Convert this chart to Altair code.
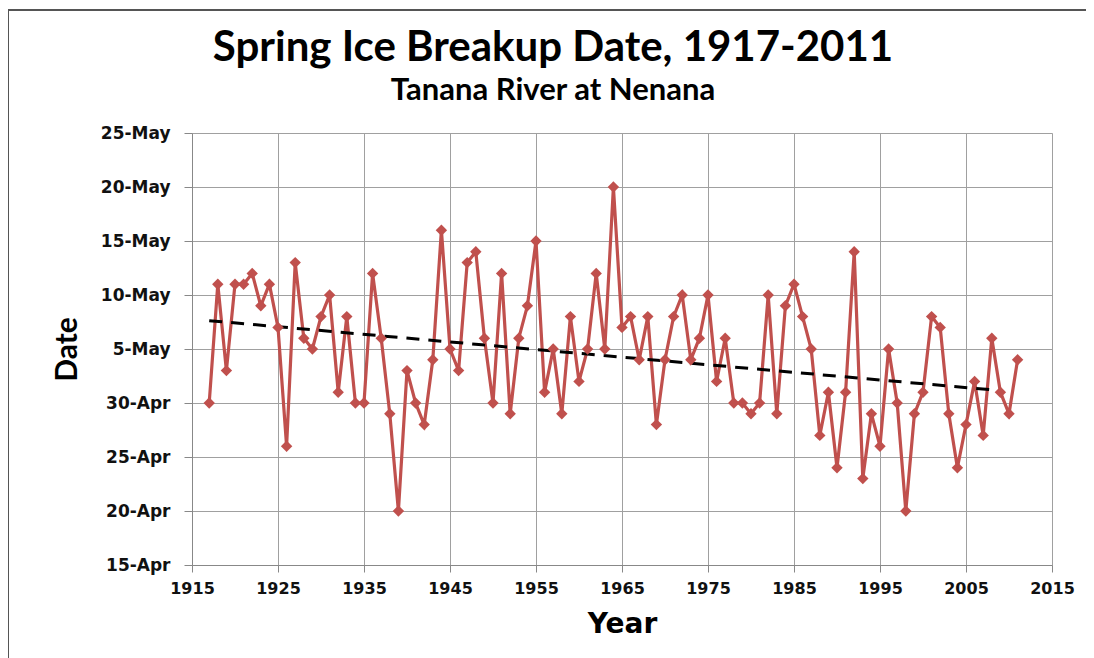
import altair as alt
import pandas as pd

years = list(range(1917, 2012))
breakup = [
    "30-Apr", "11-May", "3-May", "11-May", "11-May", "12-May", "9-May", "11-May", "7-May", "26-Apr",
    "13-May", "6-May", "5-May", "8-May", "10-May", "1-May", "8-May", "30-Apr", "30-Apr", "12-May",
    "6-May", "29-Apr", "20-Apr", "3-May", "30-Apr", "28-Apr", "4-May", "16-May", "5-May", "3-May",
    "13-May", "14-May", "6-May", "30-Apr", "12-May", "29-Apr", "6-May", "9-May", "15-May", "1-May",
    "5-May", "29-Apr", "8-May", "2-May", "5-May", "12-May", "5-May", "20-May", "7-May", "8-May",
    "4-May", "8-May", "28-Apr", "4-May", "8-May", "10-May", "4-May", "6-May", "10-May", "2-May",
    "6-May", "30-Apr", "30-Apr", "29-Apr", "30-Apr", "10-May", "29-Apr", "9-May", "11-May", "8-May",
    "5-May", "27-Apr", "1-May", "24-Apr", "1-May", "14-May", "23-Apr", "29-Apr", "26-Apr", "5-May",
    "30-Apr", "20-Apr", "29-Apr", "1-May", "8-May", "7-May", "29-Apr", "24-Apr", "28-Apr", "2-May",
    "27-Apr", "6-May", "1-May", "29-Apr", "4-May",
]
x_ticks = list(range(1915, 2016, 10))
y_ticks = ["15-Apr", "20-Apr", "25-Apr", "30-Apr", "5-May", "10-May", "15-May", "20-May", "25-May"]
trend_extent = [1917, 2009]


def doy(s):
    return pd.to_datetime(s + "-2001", format="%d-%b-%Y").dayofyear


df = pd.DataFrame({"year": years, "day": [doy(s) for s in breakup]})
y_vals = [doy(s) for s in y_ticks]

label_font = "DejaVu Sans"
xs = alt.Scale(domain=[1915, 2015], nice=False, zero=False)
ys = alt.Scale(domain=[y_vals[0], y_vals[-1]], nice=False, zero=False)

x_axis = alt.Axis(
    values=x_ticks, format="d", title="Year", grid=True, gridColor="#A0A0A0",
    domainColor="#888888", tickColor="#888888", tickSize=7, labelPadding=8,
    labelFont=label_font, labelFontWeight="bold", labelFontSize=16, labelColor="#111111",
    titleFont=label_font, titleFontWeight="bold", titleFontSize=28, titleColor="#000000",
    titlePadding=14, labelFlush=False,
)
y_axis = alt.Axis(
    values=y_vals, title="Date", grid=True, gridColor="#A0A0A0",
    domainColor="#888888", tickColor="#888888", tickSize=8, labelPadding=14,
    labelExpr="timeFormat(datetime(2001, 0, datum.value), '%-d-%b')",
    labelFont=label_font, labelFontWeight="bold", labelFontSize=17, labelColor="#111111",
    titleFont="Lato", titleFontWeight="bold", titleFontSize=30, titleColor="#000000",
    titlePadding=18,
)

base = alt.Chart(df)

line = base.mark_line(color="#C0504D", strokeWidth=3.2).encode(
    x=alt.X("year:Q", scale=xs, axis=x_axis),
    y=alt.Y("day:Q", scale=ys, axis=y_axis),
)
points = base.mark_point(shape="diamond", filled=True, size=130, color="#C0504D", opacity=1).encode(
    x=alt.X("year:Q", scale=xs),
    y=alt.Y("day:Q", scale=ys),
)
trend = base.transform_regression("year", "day", extent=trend_extent).mark_line(
    color="#000000", strokeWidth=3, strokeDash=[13, 9]
).encode(
    x=alt.X("year:Q", scale=xs),
    y=alt.Y("day:Q", scale=ys),
)
frame = base.mark_rect(fill=None, stroke="#555555", strokeWidth=2, filled=False).encode(
    x=alt.value(-184), x2=alt.value(915), y=alt.value(-123), y2=alt.value(700)
).transform_filter("datum.year == 1917")

chart = alt.layer(frame, line, trend, points).properties(
    width=860,
    height=432,
    autosize=alt.AutoSizeParams(type="none"),
    padding={"left": 184, "top": 125, "right": 34, "bottom": 93},
    title=alt.TitleParams(
        text="Spring Ice Breakup Date, 1917-2011",
        subtitle="Tanana River at Nenana",
        font="Lato", fontSize=42, fontWeight="bold", color="#000000",
        subtitleFont="Lato", subtitleFontSize=31, subtitleFontWeight="bold", subtitleColor="#000000",
        subtitlePadding=6, offset=-98, anchor="middle", dx=-69,
    ),
).configure_view(stroke=None).configure(background="white")

chart.save("out.html", embed_options={"renderer": "svg", "actions": False})
